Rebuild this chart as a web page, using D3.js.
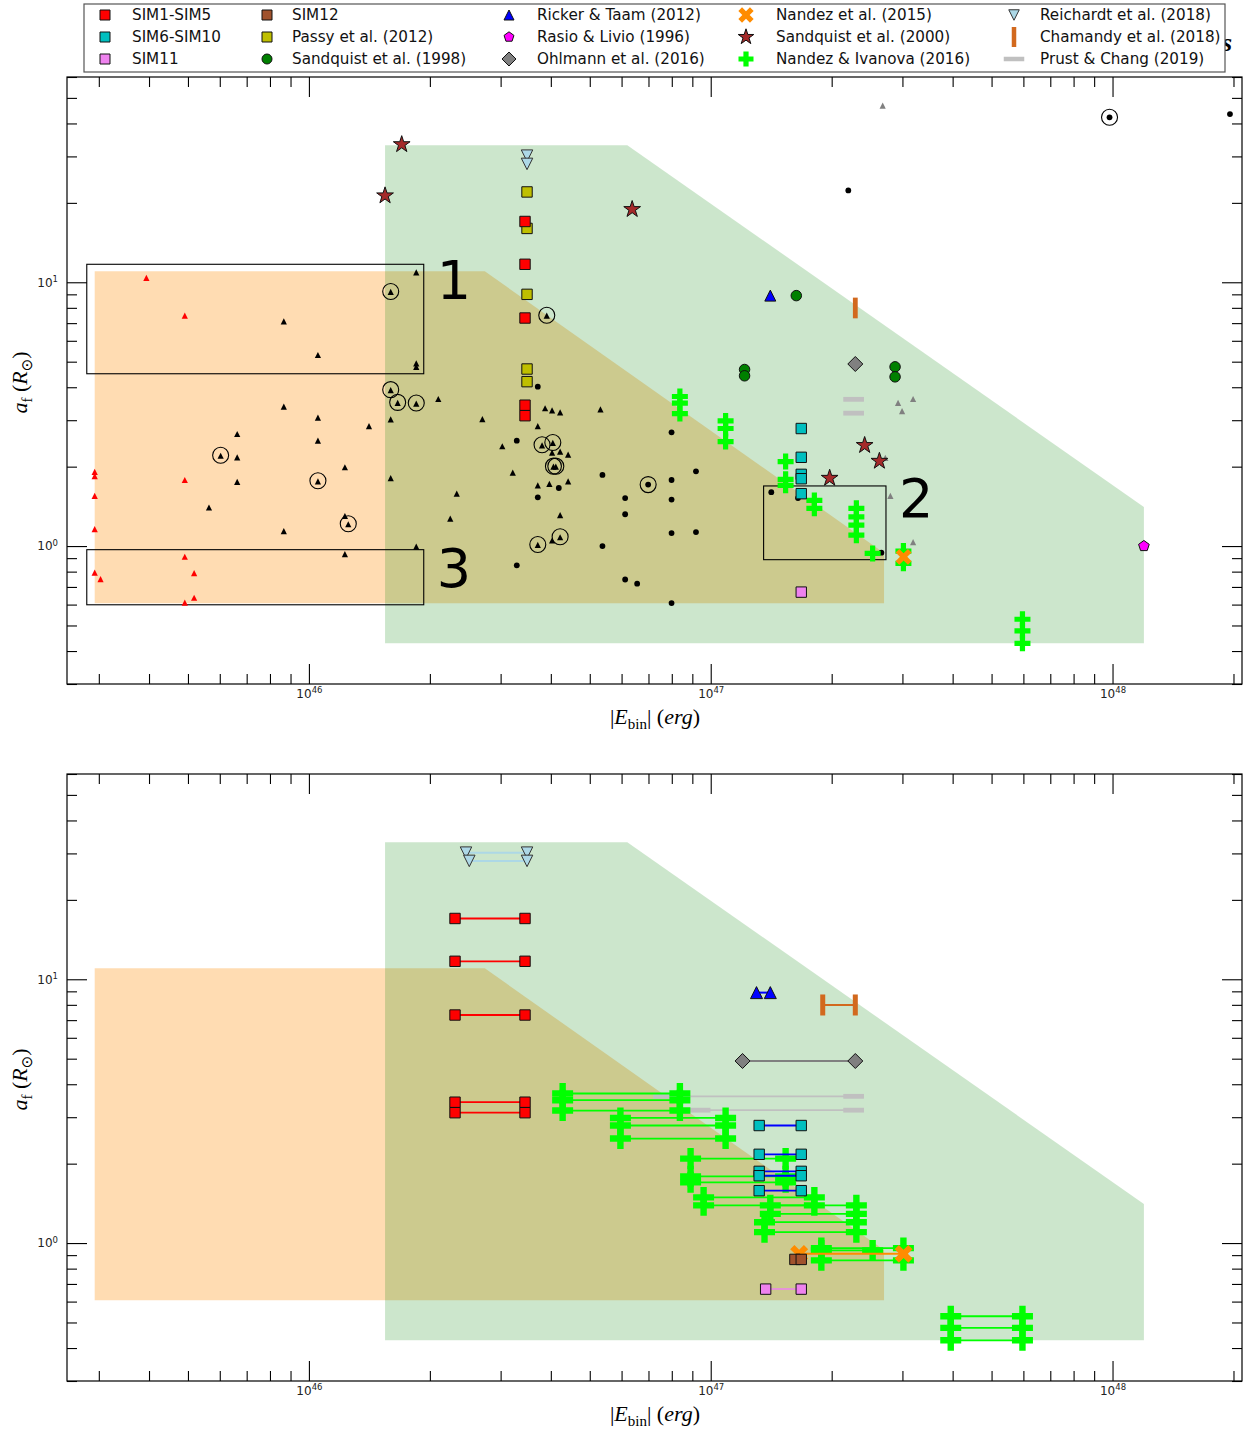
<!DOCTYPE html>
<html>
<head>
<meta charset="utf-8">
<script src="https://cdn.jsdelivr.net/npm/d3@7"></script>
<style>
html, body { margin: 0; padding: 0; background: #fff; }
svg { display: block; }
</style>
</head>
<body>
<svg id="chart" width="1248" height="1432"></svg>
<script>
// ---------------- data: |E_bin| (erg) and a_f (R_sun) ----------------

// Post-common-envelope systems without a legend entry: [E, a, circled]
const obsRedTriangles = [
  [2.93e45, 1.91], [2.93e45, 1.84], [2.93e45, 1.55], [2.93e45, 1.16], [2.93e45, 0.793],
  [3.03e45, 0.749], [3.94e45, 10.4], [4.91e45, 7.47], [4.91e45, 1.78], [4.91e45, 0.911],
  [4.91e45, 0.61], [5.18e45, 0.79], [5.18e45, 0.637]
];
const obsTriangles = [
  [8.66e45, 7.11, 0], [1.053e46, 5.30, 0], [1.85e46, 10.9, 0], [1.85e46, 4.93, 0], [1.85e46, 4.78, 0],
  [1.598e46, 9.19, 1], [1.598e46, 3.90, 1], [1.663e46, 3.49, 1], [1.85e46, 3.47, 1], [2.099e46, 3.61, 0],
  [8.66e45, 3.38, 0], [1.053e46, 3.07, 0], [1.411e46, 2.85, 0], [1.598e46, 3.02, 0], [6.63e45, 2.66, 0],
  [1.053e46, 2.51, 0], [6.03e45, 2.20, 1], [6.63e45, 2.17, 0], [1.229e46, 1.99, 0], [1.598e46, 1.81, 0],
  [1.053e46, 1.76, 1], [6.63e45, 1.75, 0], [5.64e45, 1.40, 0], [1.229e46, 1.30, 0], [1.253e46, 1.21, 1],
  [8.66e45, 1.14, 0], [1.85e46, 0.995, 0], [1.229e46, 0.932, 0], [3.908e46, 7.47, 1], [2.702e46, 3.03, 0],
  [3.871e46, 3.33, 0], [4.029e46, 3.27, 0], [4.219e46, 3.21, 0], [5.316e46, 3.30, 0], [3.712e46, 2.85, 0],
  [3.029e46, 2.39, 0], [3.804e46, 2.41, 1], [4.046e46, 2.46, 1], [4.029e46, 2.26, 0], [4.219e46, 2.28, 0],
  [4.417e46, 2.22, 0], [4.06e46, 2.00, 1], [4.116e46, 2.00, 1], [3.216e46, 1.90, 0], [3.712e46, 1.70, 0],
  [3.967e46, 1.72, 0], [4.417e46, 1.76, 0], [2.333e46, 1.58, 0], [2.248e46, 1.27, 0], [4.219e46, 1.31, 0],
  [4.219e46, 1.08, 1], [4.029e46, 1.05, 0], [3.712e46, 1.01, 1]
];
const obsGreyTriangles = [
  [2.926e47, 3.49], [2.994e47, 3.25], [3.189e47, 3.61], [2.72e47, 2.16], [2.80e47, 1.55],
  [3.189e47, 1.035], [2.679e47, 46.7]
];
const obsDots = [
  [3.712e46, 4.02, 0], [3.291e46, 2.51, 0], [4.187e46, 1.66, 0], [3.712e46, 1.53, 0], [3.291e46, 0.845, 0],
  [5.377e46, 1.86, 0], [6.124e46, 1.52, 0], [6.124e46, 1.32, 0], [5.377e46, 1.00, 0], [6.124e46, 0.747, 0],
  [6.56e46, 0.72, 0], [7.99e46, 2.70, 0], [7.99e46, 1.78, 0], [7.99e46, 1.50, 0], [7.99e46, 1.12, 0],
  [7.99e46, 0.608, 0], [9.19e46, 1.92, 0], [9.19e46, 1.13, 0], [6.987e46, 1.71, 1], [1.415e47, 1.60, 0],
  [1.649e47, 1.52, 0], [2.659e47, 0.944, 0], [2.2e47, 22.3, 0], [9.83e47, 42.2, 1], [1.96e48, 43.4, 0]
];

// Simulations with two energy estimates: [E_low, E_high, a]
const sim1to5 = [
  [2.31e46, 3.45e46, 17.0], [2.31e46, 3.45e46, 11.7], [2.31e46, 3.45e46, 7.32],
  [2.31e46, 3.45e46, 3.42], [2.31e46, 3.45e46, 3.12]
];
const sim6to10 = [
  [1.32e47, 1.68e47, 2.79], [1.32e47, 1.68e47, 2.17], [1.32e47, 1.68e47, 1.87],
  [1.32e47, 1.68e47, 1.80], [1.32e47, 1.68e47, 1.58]
];
const sim11 = [[1.37e47, 1.68e47, 0.669]];
const sim12 = [[1.62e47, 1.68e47, 0.867]];
const ricker = [[1.30e47, 1.407e47, 8.9]];
const ohlmann = [[1.20e47, 2.29e47, 4.9]];
const nandez2015 = [[1.66e47, 3.02e47, 0.91]];
const reichardt = [[2.46e46, 3.49e46, 30.2], [2.507e46, 3.49e46, 28.1]];
const chamandy = [[1.90e47, 2.29e47, 7.99]];
const prust = [[7.63e46, 2.268e47, 3.60], [9.41e46, 2.268e47, 3.19]];
const nandezIvanova = [
  [4.28e46, 8.38e46, 3.69], [4.28e46, 8.38e46, 3.48], [4.28e46, 8.38e46, 3.18],
  [5.96e46, 1.089e47, 2.98], [5.96e46, 1.089e47, 2.79], [5.96e46, 1.089e47, 2.49],
  [8.91e46, 1.536e47, 2.09], [8.91e46, 1.536e47, 1.79], [8.91e46, 1.536e47, 1.70],
  [9.60e46, 1.811e47, 1.49], [9.60e46, 1.811e47, 1.39],
  [1.407e47, 2.304e47, 1.39], [1.407e47, 2.304e47, 1.29],
  [1.361e47, 2.304e47, 1.20], [1.361e47, 2.304e47, 1.10],
  [1.885e47, 3.017e47, 0.957], [1.885e47, 2.529e47, 0.938], [1.885e47, 3.017e47, 0.860],
  [3.957e47, 5.968e47, 0.528], [3.957e47, 5.968e47, 0.477], [3.957e47, 5.968e47, 0.428]
];

// Single-estimate literature results: [E, a]
const passy = [[3.49e46, 22.0], [3.49e46, 16.0], [3.49e46, 9.0], [3.49e46, 4.69], [3.49e46, 4.2]];
const sandquist1998 = [[1.633e47, 8.9], [1.214e47, 4.67], [1.214e47, 4.42], [2.876e47, 4.78], [2.876e47, 4.38]];
const rasio = [[1.197e48, 1.0]];
const sandquist2000 = [
  [1.702e46, 33.3], [1.547e46, 21.3], [6.375e46, 18.9], [2.416e47, 2.41], [2.629e47, 2.10], [1.977e47, 1.81]
];

// Shaded parameter regions: polygon vertices [E, a]
const regionOrange = [[2.93e45, 11.0], [2.74e46, 11.0], [2.70e47, 0.942], [2.70e47, 0.607], [2.93e45, 0.607]];
const regionGreen = [[1.547e46, 33.1], [6.2e46, 33.1], [1.197e48, 1.406], [1.197e48, 0.428], [1.547e46, 0.428]];

// Numbered selection boxes: [label, E_left, E_right, a_top, a_bottom]
const selectionBoxes = [
  ["1", 2.80e45, 1.931e46, 11.7, 4.50],
  ["2", 1.354e47, 2.73e47, 1.69, 0.888],
  ["3", 2.80e45, 1.931e46, 0.969, 0.599]
];

const xMajorTicks = [1e46, 1e47, 1e48];
const yMajorTicks = [1, 10];

const legendLabels = [
  "SIM1-SIM5", "SIM6-SIM10", "SIM11",
  "SIM12", "Passy et al. (2012)", "Sandquist et al. (1998)",
  "Ricker & Taam (2012)", "Rasio & Livio (1996)", "Ohlmann et al. (2016)",
  "Nandez et al. (2015)", "Sandquist et al. (2000)", "Nandez & Ivanova (2016)",
  "Reichardt et al. (2018)", "Chamandy et al. (2018)", "Prust & Chang (2019)"
];

// ---------------- drawing ----------------
const SANS = "'DejaVu Sans', sans-serif";
const SERIF = "'Liberation Serif', 'DejaVu Serif', serif";
const svg = d3.select("#chart");

const xScale = d3.scaleLog().domain([2.5e45, 2.1e48]).range([67, 1242]);
const yUpper = d3.scaleLog().domain([0.3, 60]).range([684, 77]);
const yLower = d3.scaleLog().domain([0.3, 60]).range([1381, 774]);

function poly(pts) {
  return "M" + pts.map(p => p[0].toFixed(2) + "," + p[1].toFixed(2)).join("L") + "Z";
}
function plusPts(a, b) {
  return [[-b, -a], [b, -a], [b, -b], [a, -b], [a, b], [b, b], [b, a], [-b, a], [-b, b], [-a, b], [-a, -b], [-b, -b]];
}
const shapePath = {
  square: st => { const s = st.size / 2; return poly([[-s, -s], [s, -s], [s, s], [-s, s]]); },
  triUp: st => { const s = st.size / 2; return poly([[0, -s], [s, s], [-s, s]]); },
  triDown: st => { const s = st.size / 2; return poly([[0, s], [s, -s], [-s, -s]]); },
  diamond: st => { const s = st.size / 2; return poly([[0, -s], [s, 0], [0, s], [-s, 0]]); },
  star: st => {
    const pts = [];
    for (let i = 0; i < 10; i++) {
      const r = i % 2 === 0 ? st.size : st.size * 0.382;
      const ang = -Math.PI / 2 + i * Math.PI / 5;
      pts.push([r * Math.cos(ang), r * Math.sin(ang)]);
    }
    return poly(pts);
  },
  pentagon: st => {
    const pts = [];
    for (let i = 0; i < 5; i++) {
      const ang = -Math.PI / 2 + i * 2 * Math.PI / 5;
      pts.push([st.size * Math.cos(ang), st.size * Math.sin(ang)]);
    }
    return poly(pts);
  },
  plus: st => poly(plusPts(st.a, st.b)),
  xmark: st => poly(plusPts(st.a, st.b).map(p => [(p[0] - p[1]) / Math.SQRT2, (p[0] + p[1]) / Math.SQRT2]))
};

function drawMarker(g, x, y, st) {
  let el;
  if (st.shape === "circle") {
    el = g.append("circle").attr("cx", x).attr("cy", y).attr("r", st.size / 2);
  } else if (st.shape === "rect") {
    el = g.append("rect").attr("x", x - st.w / 2).attr("y", y - st.h / 2).attr("width", st.w).attr("height", st.h);
  } else {
    el = g.append("path").attr("transform", `translate(${x},${y})`).attr("d", shapePath[st.shape](st));
  }
  el.attr("fill", st.fill).attr("stroke", st.stroke || "none").attr("stroke-width", st.sw || 0);
  return el;
}

const EDGE = "#111";
const styles = {
  sim1to5:       { shape: "square", size: 10.4, fill: "#ff0000", stroke: EDGE, sw: 1, line: "#ff0000", lw: 1.8 },
  sim6to10:      { shape: "square", size: 10.4, fill: "#00bfbf", stroke: EDGE, sw: 1, line: "#0000ff", lw: 1.8 },
  sim11:         { shape: "square", size: 10.4, fill: "#ee82ee", stroke: EDGE, sw: 1, line: "#ee82ee", lw: 1.5 },
  sim12:         { shape: "square", size: 10.4, fill: "#a0522d", stroke: EDGE, sw: 1, line: "#a0522d", lw: 1.5 },
  passy:         { shape: "square", size: 10.4, fill: "#bfbf00", stroke: EDGE, sw: 1 },
  sandquist1998: { shape: "circle", size: 10.5, fill: "#008000", stroke: EDGE, sw: 1 },
  ricker:        { shape: "triUp", size: 11, fill: "#0000ff", stroke: EDGE, sw: 1, line: "#0000ff", lw: 2 },
  rasio:         { shape: "pentagon", size: 5.6, fill: "#ff00ff", stroke: EDGE, sw: 1 },
  ohlmann:       { shape: "diamond", size: 15, fill: "#808080", stroke: EDGE, sw: 1, line: "#808080", lw: 1.8 },
  nandez2015:    { shape: "xmark", a: 8.7, b: 2.6, fill: "#ff8c00", line: "#ff8c00", lw: 2 },
  sandquist2000: { shape: "star", size: 8.8, fill: "#a52a2a", stroke: EDGE, sw: 1 },
  nandezIvanova: { shape: "plus", a: 8, b: 2.6, fill: "#00ff00", line: "#00ff00", lw: 1.8 },
  reichardt:     { shape: "triDown", size: 11.5, fill: "#add8e6", stroke: "#333", sw: 1, line: "#add8e6", lw: 2 },
  chamandy:      { shape: "rect", w: 4.8, h: 20.7, fill: "#d2691e", line: "#d2691e", lw: 1.8 },
  prust:         { shape: "rect", w: 20.7, h: 4.8, fill: "#c0c0c0", line: "#c0c0c0", lw: 1.8 }
};
// larger marker variants used in the lower panel
const lowerOverrides = {
  nandezIvanova: { a: 10.5, b: 3.2 },
  nandez2015: { a: 9.7, b: 3.0 },
  ricker: { size: 12 },
  chamandy: { w: 5, h: 21 }
};

function axes(g, y) {
  const [yb, yt] = y.range();
  const xTicksAll = xScale.ticks();
  const xMinor = xTicksAll.filter(v => !xMajorTicks.some(m => Math.abs(v / m - 1) < 1e-6));
  const yTicksAll = y.ticks();
  const yMinor = yTicksAll.filter(v => !yMajorTicks.some(m => Math.abs(v / m - 1) < 1e-6));

  const sup = sel => sel.selectAll(".tick text").each(function (d) {
    d3.select(this).append("tspan").attr("dy", "-0.5em").style("font-size", "8.5px")
      .text(Math.round(Math.log10(d)));
  });
  const style = sel => {
    sel.select(".domain").remove();
    sel.selectAll(".tick line").attr("stroke", "#000").attr("stroke-width", 1.1);
    sel.selectAll(".tick text").attr("font-family", SANS).attr("font-size", 12).attr("fill", "#222");
  };

  // bottom
  g.append("g").attr("transform", `translate(0,${yb})`)
    .call(d3.axisBottom(xScale).tickValues(xMajorTicks).tickSizeInner(-20).tickSizeOuter(0).tickPadding(5).tickFormat(() => "10"))
    .call(style).call(sup);
  g.append("g").attr("transform", `translate(0,${yb})`)
    .call(d3.axisBottom(xScale).tickValues(xMinor).tickSizeInner(-10).tickSizeOuter(0).tickFormat(() => ""))
    .call(style);
  // top
  g.append("g").attr("transform", `translate(0,${yt})`)
    .call(d3.axisTop(xScale).tickValues(xMajorTicks).tickSizeInner(-20).tickSizeOuter(0).tickFormat(() => ""))
    .call(style);
  g.append("g").attr("transform", `translate(0,${yt})`)
    .call(d3.axisTop(xScale).tickValues(xMinor).tickSizeInner(-10).tickSizeOuter(0).tickFormat(() => ""))
    .call(style);
  // left
  g.append("g").attr("transform", `translate(67,0)`)
    .call(d3.axisLeft(y).tickValues(yMajorTicks).tickSizeInner(-20).tickSizeOuter(0).tickPadding(9).tickFormat(() => "10"))
    .call(style).call(sup);
  g.append("g").attr("transform", `translate(67,0)`)
    .call(d3.axisLeft(y).tickValues(yMinor).tickSizeInner(-10).tickSizeOuter(0).tickFormat(() => ""))
    .call(style);
  // right
  g.append("g").attr("transform", `translate(1242,0)`)
    .call(d3.axisRight(y).tickValues(yMajorTicks).tickSizeInner(-20).tickSizeOuter(0).tickFormat(() => ""))
    .call(style);
  g.append("g").attr("transform", `translate(1242,0)`)
    .call(d3.axisRight(y).tickValues(yMinor).tickSizeInner(-10).tickSizeOuter(0).tickFormat(() => ""))
    .call(style);

  // frame
  g.append("rect").attr("x", 67).attr("y", yt).attr("width", 1242 - 67).attr("height", yb - yt)
    .attr("fill", "none").attr("stroke", "#000").attr("stroke-width", 1.2);

  // axis titles
  const xt = g.append("text").attr("x", 655).attr("y", yb + 40).attr("text-anchor", "middle")
    .attr("font-family", SERIF).attr("font-size", 22).attr("fill", "#000");
  xt.append("tspan").text("|");
  xt.append("tspan").attr("font-style", "italic").text("E");
  xt.append("tspan").attr("font-size", 15).attr("dy", 5).text("bin");
  xt.append("tspan").attr("dy", -5).text("| (");
  xt.append("tspan").attr("font-style", "italic").text("erg");
  xt.append("tspan").text(")");

  const ymid = (yb + yt) / 2 + 2;
  const ytx = g.append("text").attr("transform", `translate(27,${ymid}) rotate(-90)`).attr("text-anchor", "middle")
    .attr("font-family", SERIF).attr("font-size", 22).attr("fill", "#000");
  ytx.append("tspan").attr("font-style", "italic").text("a");
  ytx.append("tspan").attr("font-size", 15).attr("dy", 5).text("f");
  ytx.append("tspan").attr("dy", -5).text(" (");
  ytx.append("tspan").attr("font-style", "italic").text("R");
  ytx.append("tspan").attr("font-size", 15).attr("dy", 5).attr("font-family", "'DejaVu Sans', sans-serif").text("\u2299");
  ytx.append("tspan").attr("dy", -5).text(")");
}

function regions(g, y) {
  const line = d3.line().x(d => xScale(d[0])).y(d => y(d[1]));
  g.append("path").attr("d", line(regionOrange) + "Z").attr("fill", "rgb(255,140,0)").attr("fill-opacity", 0.3);
  g.append("path").attr("d", line(regionGreen) + "Z").attr("fill", "rgb(0,128,0)").attr("fill-opacity", 0.2);
}

function pairSeries(g, y, data, st) {
  data.forEach(d => {
    g.append("line").attr("x1", xScale(d[0])).attr("x2", xScale(d[1]))
      .attr("y1", y(d[2])).attr("y2", y(d[2]))
      .attr("stroke", st.line).attr("stroke-width", st.lw);
  });
  data.forEach(d => {
    drawMarker(g, xScale(d[0]), y(d[2]), st);
    drawMarker(g, xScale(d[1]), y(d[2]), st);
  });
}

// ---------- upper panel ----------
const upperPanel = svg.append("g");
regions(upperPanel, yUpper);

// selection boxes, each numbered just right of its upper edge
const boxLabelDrop = { "1": 35, "2": 31, "3": 37 };
selectionBoxes.forEach(b => {
  const x0 = xScale(b[1]), x1 = xScale(b[2]), y0 = yUpper(b[3]), y1 = yUpper(b[4]);
  upperPanel.append("rect").attr("x", x0).attr("y", y0).attr("width", x1 - x0).attr("height", y1 - y0)
    .attr("fill", "none").attr("stroke", "#000").attr("stroke-width", 1.1);
  upperPanel.append("text").attr("x", x1 + 13).attr("y", y0 + boxLabelDrop[b[0]]).attr("font-family", SANS)
    .attr("font-size", 54).attr("fill", "#000").text(b[0]);
});

const smallTri = { shape: "triUp", size: 6.2 };
obsRedTriangles.forEach(d => drawMarker(upperPanel, xScale(d[0]), yUpper(d[1]), { ...smallTri, fill: "#ff0000" }));
obsTriangles.forEach(d => {
  drawMarker(upperPanel, xScale(d[0]), yUpper(d[1]), { ...smallTri, fill: "#000" });
  if (d[2]) upperPanel.append("circle").attr("cx", xScale(d[0])).attr("cy", yUpper(d[1]) - 0.5).attr("r", 8)
    .attr("fill", "none").attr("stroke", "#000").attr("stroke-width", 1.1);
});
obsGreyTriangles.forEach(d => drawMarker(upperPanel, xScale(d[0]), yUpper(d[1]), { ...smallTri, fill: "#808080" }));
obsDots.forEach(d => {
  upperPanel.append("circle").attr("cx", xScale(d[0])).attr("cy", yUpper(d[1])).attr("r", 2.9).attr("fill", "#000");
  if (d[2]) upperPanel.append("circle").attr("cx", xScale(d[0])).attr("cy", yUpper(d[1])).attr("r", 8)
    .attr("fill", "none").attr("stroke", "#000").attr("stroke-width", 1.1);
});

const pointSeries = (data, st) => data.forEach(d => drawMarker(upperPanel, xScale(d[0]), yUpper(d[1]), st));
const rightEnds = data => data.map(d => [d[1], d[2]]);

pointSeries(passy, styles.passy);
pointSeries(sandquist1998, styles.sandquist1998);
pointSeries(rightEnds(ricker), styles.ricker);
pointSeries(rasio, styles.rasio);
pointSeries(rightEnds(ohlmann), styles.ohlmann);
pointSeries(sandquist2000, styles.sandquist2000);
pointSeries(rightEnds(nandezIvanova), styles.nandezIvanova);
pointSeries(rightEnds(nandez2015), styles.nandez2015);
pointSeries(rightEnds(reichardt), styles.reichardt);
pointSeries(rightEnds(chamandy), styles.chamandy);
pointSeries(rightEnds(prust), styles.prust);
pointSeries(rightEnds(sim6to10), styles.sim6to10);
pointSeries(rightEnds(sim11), styles.sim11);
pointSeries(rightEnds(sim1to5), styles.sim1to5);

axes(upperPanel, yUpper);

// ---------- lower panel ----------
const lowerPanel = svg.append("g");
regions(lowerPanel, yLower);
const low = key => ({ ...styles[key], ...(lowerOverrides[key] || {}) });
pairSeries(lowerPanel, yLower, reichardt, low("reichardt"));
pairSeries(lowerPanel, yLower, ricker, low("ricker"));
pairSeries(lowerPanel, yLower, chamandy, low("chamandy"));
pairSeries(lowerPanel, yLower, ohlmann, low("ohlmann"));
pairSeries(lowerPanel, yLower, prust, low("prust"));
pairSeries(lowerPanel, yLower, nandezIvanova, low("nandezIvanova"));
pairSeries(lowerPanel, yLower, nandez2015, low("nandez2015"));
pairSeries(lowerPanel, yLower, sim6to10, low("sim6to10"));
pairSeries(lowerPanel, yLower, sim11, low("sim11"));
pairSeries(lowerPanel, yLower, sim12, low("sim12"));
pairSeries(lowerPanel, yLower, sim1to5, low("sim1to5"));
axes(lowerPanel, yLower);

// ---------- legend ----------
svg.append("text").attr("x", 1222).attr("y", 51).attr("font-family", SERIF).attr("font-style", "italic")
  .attr("font-weight", "bold").attr("font-size", 26).attr("fill", "#000").text("s");

const legend = svg.append("g");
legend.append("rect").attr("x", 84).attr("y", 4).attr("width", 1225 - 84).attr("height", 72 - 4)
  .attr("fill", "#fff").attr("stroke", "#555").attr("stroke-width", 1.2);
const legendKeys = ["sim1to5", "sim6to10", "sim11", "sim12", "passy", "sandquist1998",
  "ricker", "rasio", "ohlmann", "nandez2015", "sandquist2000", "nandezIvanova",
  "reichardt", "chamandy", "prust"];
const colMarkerX = [105, 267, 509, 746, 1014];
const colTextX = [132, 292, 537, 776, 1040];
const rowY = [15, 37, 59];
const legendSize = {
  sim1to5: { size: 10 }, sim6to10: { size: 10 }, sim11: { size: 10 }, sim12: { size: 10 }, passy: { size: 10 },
  sandquist1998: { size: 10 }, ricker: { size: 10 }, rasio: { size: 5.2 }, ohlmann: { size: 14 },
  nandez2015: { a: 8.2, b: 2.6 }, sandquist2000: { size: 8.2 }, nandezIvanova: { a: 7.5, b: 2.6 },
  reichardt: { size: 10.5 }, chamandy: { w: 4.5, h: 20 }, prust: { w: 20.5, h: 4.5 }
};
legendKeys.forEach((k, i) => {
  const col = Math.floor(i / 3), row = i % 3;
  drawMarker(legend, colMarkerX[col], rowY[row], { ...styles[k], ...legendSize[k] });
  legend.append("text").attr("x", colTextX[col]).attr("y", rowY[row]).attr("dy", "0.36em")
    .attr("font-family", SANS).attr("font-size", 15.2).attr("fill", "#111").text(legendLabels[i]);
});
</script>
</body>
</html>
